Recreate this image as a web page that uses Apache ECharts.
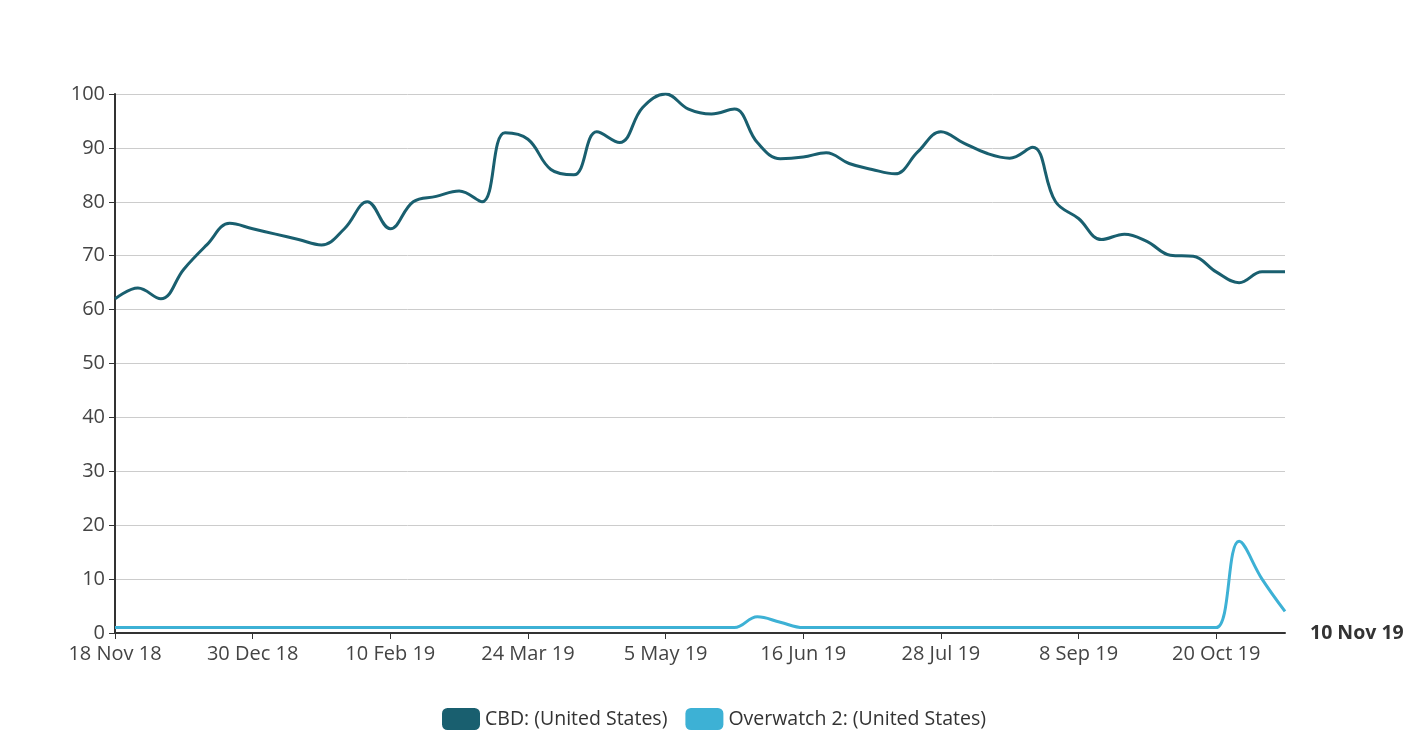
<!DOCTYPE html>
<html>
<head>
<meta charset="utf-8">
<script src="https://cdn.jsdelivr.net/npm/echarts@6/dist/echarts.min.js"></script>
<style>
html,body{margin:0;padding:0;background:#fff;}
#chart{width:1428px;height:739px;}
</style>
</head>
<body>
<div id="chart"></div>
<script>
var categories = [
  "18 Nov 18","25 Nov 18","2 Dec 18","9 Dec 18","16 Dec 18","23 Dec 18","30 Dec 18",
  "6 Jan 19","13 Jan 19","20 Jan 19","27 Jan 19","3 Feb 19","10 Feb 19","17 Feb 19","24 Feb 19",
  "3 Mar 19","10 Mar 19","17 Mar 19","24 Mar 19","31 Mar 19","7 Apr 19","14 Apr 19","21 Apr 19","28 Apr 19",
  "5 May 19","12 May 19","19 May 19","26 May 19","2 Jun 19","9 Jun 19","16 Jun 19","23 Jun 19","30 Jun 19",
  "7 Jul 19","14 Jul 19","21 Jul 19","28 Jul 19","4 Aug 19","11 Aug 19","18 Aug 19","25 Aug 19",
  "1 Sep 19","8 Sep 19","15 Sep 19","22 Sep 19","29 Sep 19","6 Oct 19","13 Oct 19","20 Oct 19","27 Oct 19",
  "3 Nov 19","10 Nov 19"
];
var cbdValues = [
  62, 64, 62, 67.5, 72, 76, 75, 74, 73, 72,
  75, 80, 75, 80, 81, 82, 80, 92.8, 91.6, 86,
  85, 93, 91, 97.5, 100, 97.2, 96.3, 97.2, 91, 88,
  88.3, 89.1, 87.1, 86, 85.2, 89.3, 93, 90.9, 89, 88.1,
  90.1, 80, 76.9, 73, 74, 72.6, 70.1, 69.9, 67, 65,
  67, 67
];
var overwatchValues = [
  1, 1, 1, 1, 1, 1, 1, 1, 1, 1,
  1, 1, 1, 1, 1, 1, 1, 1, 1, 1,
  1, 1, 1, 1, 1, 1, 1, 1, 3, 2,
  1, 1, 1, 1, 1, 1, 1, 1, 1, 1,
  1, 1, 1, 1, 1, 1, 1, 1, 1, 17,
  10, 4
];
var seriesNames = ["CBD: (United States)", "Overwatch 2: (United States)"];
var lastLabel = "10 Nov 19";

var FONT = "'Open Sans', 'Noto Sans', sans-serif";
var chart = echarts.init(document.getElementById('chart'), null, {renderer: 'canvas'});
chart.setOption({
  animation: false,
  backgroundColor: '#ffffff',
  color: ['#195f6f', '#3db1d5'],
  textStyle: {fontFamily: FONT},
  grid: {left: 115, right: 143, top: 94, bottom: 106, containLabel: false},
  legend: {
    bottom: 4,
    left: 'center',
    icon: 'roundRect',
    itemWidth: 38,
    itemHeight: 22,
    itemGap: 18,
    textStyle: {fontSize: 19.5, color: '#333', fontFamily: FONT},
    data: seriesNames
  },
  xAxis: {
    type: 'category',
    data: categories,
    boundaryGap: false,
    name: lastLabel,
    nameLocation: 'end',
    nameGap: 25,
    nameTextStyle: {fontSize: 19.5, fontWeight: 'bold', color: '#333', fontFamily: FONT},
    axisLine: {lineStyle: {color: '#333', width: 2}},
    axisTick: {interval: 5, length: 6, lineStyle: {color: '#333'}},
    axisLabel: {interval: 5, fontSize: 20, color: '#444', margin: 11, fontFamily: FONT},
    splitLine: {show: false}
  },
  yAxis: {
    type: 'value',
    min: 0,
    max: 100,
    interval: 10,
    axisLine: {show: true, lineStyle: {color: '#333', width: 2}},
    axisTick: {show: true, length: 6, lineStyle: {color: '#333'}},
    axisLabel: {fontSize: 20, color: '#444', margin: 10, fontFamily: FONT},
    splitLine: {lineStyle: {color: '#cccccc', width: 1}}
  },
  series: [
    {
      name: seriesNames[0],
      type: 'line',
      data: cbdValues,
      smooth: 0.4,
      showSymbol: false,
      lineStyle: {width: 3, color: '#195f6f'},
      itemStyle: {color: '#195f6f'},
      z: 3
    },
    {
      name: seriesNames[1],
      type: 'line',
      data: overwatchValues,
      smooth: 0.4,
      showSymbol: false,
      lineStyle: {width: 3, color: '#3db1d5'},
      itemStyle: {color: '#3db1d5'},
      z: 2
    }
  ]
});
</script>
</body>
</html>
